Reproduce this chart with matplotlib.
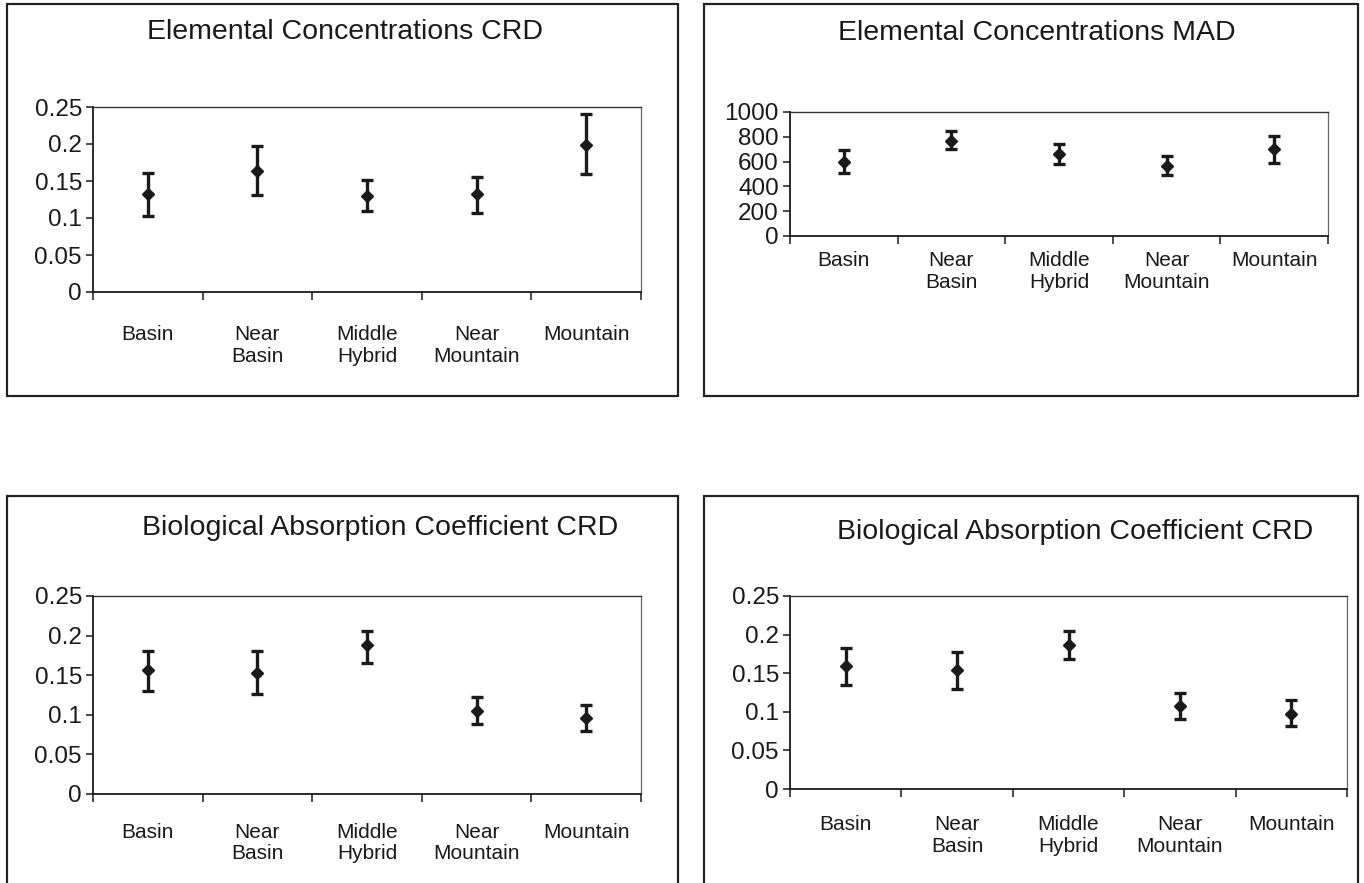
import numpy as np
import matplotlib
matplotlib.use("Agg")
import matplotlib.pyplot as plt
from matplotlib.patches import Rectangle

plt.rcParams['font.family'] = ['Liberation Sans', 'DejaVu Sans']

categories = ["Basin", "Near\nBasin", "Middle\nHybrid", "Near\nMountain", "Mountain"]

# Elemental Concentrations CRD
ec_crd_mean = [0.132, 0.164, 0.130, 0.132, 0.199]
ec_crd_low = [0.103, 0.131, 0.110, 0.107, 0.159]
ec_crd_high = [0.161, 0.197, 0.151, 0.156, 0.240]

# Elemental Concentrations MAD
ec_mad_mean = [595, 765, 660, 565, 700]
ec_mad_low = [510, 700, 580, 495, 585]
ec_mad_high = [690, 850, 745, 645, 805]

# Biological Absorption Coefficient CRD (left)
bac1_mean = [0.157, 0.153, 0.188, 0.105, 0.096]
bac1_low = [0.130, 0.126, 0.166, 0.088, 0.079]
bac1_high = [0.180, 0.180, 0.206, 0.122, 0.112]

# Biological Absorption Coefficient CRD (right)
bac2_mean = [0.159, 0.154, 0.186, 0.108, 0.097]
bac2_low = [0.135, 0.129, 0.168, 0.091, 0.081]
bac2_high = [0.182, 0.177, 0.205, 0.125, 0.115]

W, H = 1364, 883
fig = plt.figure(figsize=(W / 100, H / 100), dpi=100)
ink = '#1a1a1a'


def px_rect(x0, y0, x1, y1):
    # pixel box (top-left origin) -> figure fraction [left, bottom, width, height]
    return [x0 / W, 1 - y1 / H, (x1 - x0) / W, (y1 - y0) / H]


def panel(box, ax_box, title, title_xy, mean, low, high, yticks, yticklabels, pad):
    bx = px_rect(*box)
    fig.patches.append(Rectangle((bx[0], bx[1]), bx[2], bx[3], transform=fig.transFigure,
                                 fill=False, edgecolor='#222222', linewidth=1.6))
    fig.text(title_xy[0] / W, 1 - title_xy[1] / H, title, ha='center', va='center',
             fontsize=20.5, color=ink)
    ax = fig.add_axes(px_rect(*ax_box))
    x = np.arange(len(mean)) + 0.5
    mean = np.array(mean)
    yerr = [mean - np.array(low), np.array(high) - mean]
    ax.errorbar(x, mean, yerr=yerr, fmt='D', color=ink, markersize=6.5,
                elinewidth=2.4, capsize=4.5, capthick=2.4, ecolor=ink)
    ax.set_xlim(0, len(mean))
    ax.set_ylim(yticks[0], yticks[-1])
    ax.set_yticks(yticks)
    ax.set_yticklabels(yticklabels)
    ax.set_xticks(np.arange(len(mean) + 1))
    ax.set_xticklabels([])
    ax.set_xticks(x, minor=True)
    ax.set_xticklabels(categories, minor=True)
    ax.tick_params(axis='x', which='major', direction='out', length=6, width=1.1, color=ink)
    ax.tick_params(axis='x', which='minor', length=0, pad=pad, labelsize=15, labelcolor=ink)
    ax.tick_params(axis='y', direction='out', length=5, width=1.1, color=ink,
                   labelsize=17.5, labelcolor=ink, pad=3)
    for lab in ax.get_xticklabels(minor=True):
        lab.set_linespacing(1.15)
    ax.spines['left'].set_color(ink)
    ax.spines['bottom'].set_color(ink)
    ax.spines['left'].set_linewidth(1.3)
    ax.spines['bottom'].set_linewidth(1.3)
    ax.spines['top'].set_color('#333333')
    ax.spines['top'].set_linewidth(1.0)
    ax.spines['right'].set_color('#666666')
    ax.spines['right'].set_linewidth(0.9)
    return ax


crd_ticks = [0, 0.05, 0.1, 0.15, 0.2, 0.25]
crd_labels = ["0", "0.05", "0.1", "0.15", "0.2", "0.25"]
mad_ticks = [0, 200, 400, 600, 800, 1000]
mad_labels = ["0", "200", "400", "600", "800", "1000"]

panel((7, 4, 678, 396), (93, 107, 641, 292), "Elemental Concentrations CRD", (345, 32),
      ec_crd_mean, ec_crd_low, ec_crd_high, crd_ticks, crd_labels, 24)
panel((704, 4, 1358, 396), (790, 112, 1328, 236), "Elemental Concentrations MAD", (1037, 33),
      ec_mad_mean, ec_mad_low, ec_mad_high, mad_ticks, mad_labels, 11)
panel((7, 496, 678, 890), (93, 596, 641, 794), "Biological Absorption Coefficient CRD", (380, 528),
      bac1_mean, bac1_low, bac1_high, crd_ticks, crd_labels, 21)
panel((704, 496, 1358, 890), (790, 596, 1347, 789), "Biological Absorption Coefficient CRD", (1075, 532),
      bac2_mean, bac2_low, bac2_high, crd_ticks, crd_labels, 19)

fig.savefig("out.png", dpi=100, facecolor='white')
